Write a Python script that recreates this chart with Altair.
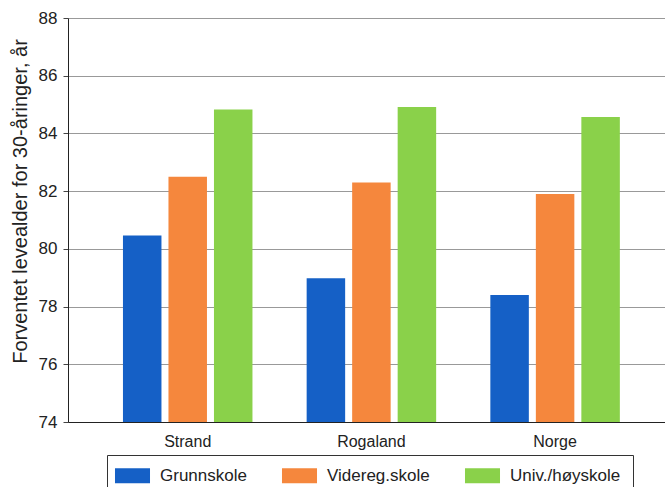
import altair as alt
import pandas as pd

categories = ["Strand", "Rogaland", "Norge"]
series = ["Grunnskole", "Videreg.skole", "Univ./høyskole"]
grunnskole = [80.46, 78.98, 78.4]
videreg = [82.5, 82.3, 81.9]
univ = [84.83, 84.92, 84.57]
colors = ["#1560C6", "#F5873D", "#8AD14A"]
y_ticks = [74, 76, 78, 80, 82, 84, 86, 88]

rows = []
for s, vals in zip(series, [grunnskole, videreg, univ]):
    for c, v in zip(categories, vals):
        rows.append({"Område": c, "Utdanning": s, "Verdi": v})
df = pd.DataFrame(rows)

FONT = "Liberation Sans"

bars = alt.Chart(df).mark_bar(cornerRadius=0).encode(
    x=alt.X(
        "Område:N",
        sort=categories,
        scale=alt.Scale(paddingInner=0.295, paddingOuter=0.2725, align=0.549),
        axis=alt.Axis(
            title=None, labelAngle=0, ticks=False, labelPadding=11,
            labelFontSize=16, labelFont=FONT, labelColor="#222",
            domainColor="#222", domainWidth=1, grid=False,
        ),
    ),
    xOffset=alt.XOffset(
        "Utdanning:N", sort=series,
        scale=alt.Scale(paddingInner=0.154, paddingOuter=0),
    ),
    y=alt.Y(
        "Verdi:Q",
        scale=alt.Scale(domain=[74, 88], zero=False, nice=False),
        axis=alt.Axis(
            values=y_ticks, title="Forventet levealder for 30-åringer, år",
            titleFont=FONT, titleFontSize=20, titleFontWeight="normal",
            titleColor="#222", titleAngle=270, titleX=-48, titleY=183,
            titleAlign="center", titleBaseline="middle",
            labelFont=FONT, labelFontSize=17, labelColor="#222",
            labelPadding=6, tickSize=5, tickColor="#444",
            domainColor="#222", domainWidth=1,
            grid=True, gridColor="#999", gridWidth=1,
        ),
    ),
    y2=alt.datum(74),
    color=alt.Color(
        "Utdanning:N", sort=series,
        scale=alt.Scale(domain=series, range=colors),
        legend=alt.Legend(
            title=None, orient="none", legendX=39, legendY=437,
            direction="horizontal", columns=3,
            symbolType="M-2.06,-0.88H2.06V0.88H-2.06Z", symbolSize=289,
            symbolStrokeWidth=0, symbolOpacity=1, symbolOffset=5,
            labelFont=FONT, labelFontSize=17, labelColor="#222",
            labelOffset=19, columnPadding=34, padding=12,
            strokeColor="#333", fillColor="white", cornerRadius=0,
        ),
    ),
)

chart = bars.properties(
    width=597, height=404,
    padding={"left": 68, "top": 18, "right": 0, "bottom": 65},
    autosize=alt.AutoSizeParams(type="none"),
    background="white",
).configure_view(stroke=None)

chart.save("out.html", embed_options={"renderer": "svg", "actions": False})
